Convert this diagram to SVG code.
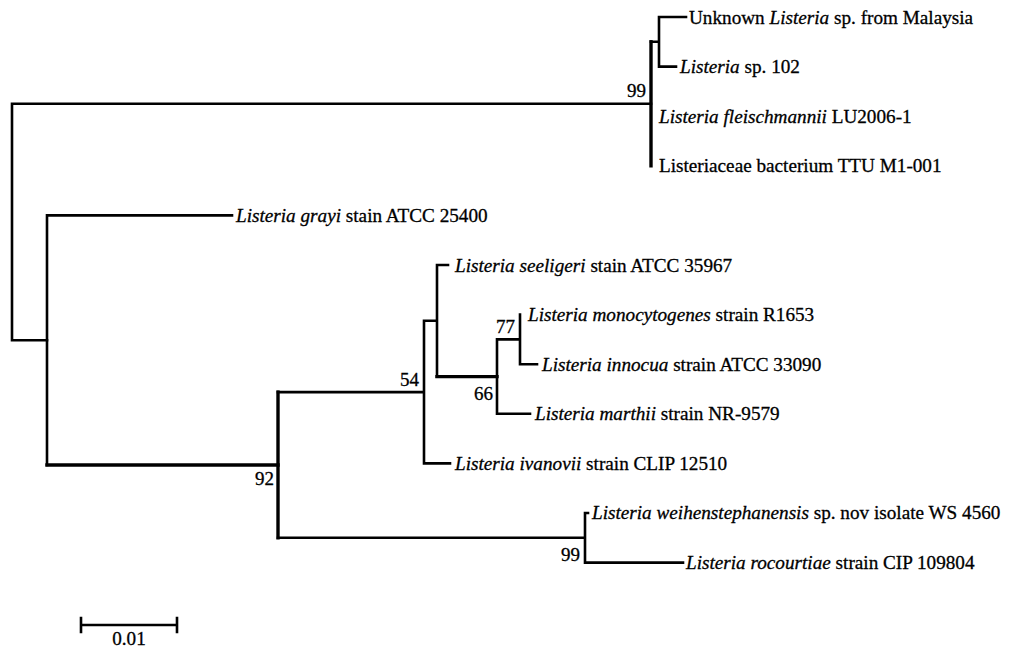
<svg xmlns="http://www.w3.org/2000/svg" width="1010" height="647" viewBox="0 0 1010 647">
<style>
.br{fill:none;stroke:#000;stroke-width:2.6;stroke-linecap:square;stroke-linejoin:miter}
.thk{stroke-width:3.4}
text{font-family:"Liberation Serif","Times New Roman",serif;font-size:19.2px;fill:#000;stroke:#000;stroke-width:0.3}
.bs{font-size:19px;text-anchor:end}
.i{font-style:italic}
</style>
<rect width="1010" height="647" fill="#fff"/>
<g id="connectors">
<path class="br" d="M651,103.8 H12 V340.2 H47"/>
<path class="br thk" d="M651,41.8 V165.8"/>
<path class="br" d="M651,41.8 H659 M659,17 V66.6 M659,17 H686 M659,66.6 H676"/>
<path class="br" d="M47,215.4 V464.95 M47,215.4 H232"/>
<path class="br thk" d="M47,464.95 H278"/>
<path class="br thk" d="M278,392.1 V537.8"/>
<path class="br" d="M278,392.1 H424 M424,320.8 V463.4 M424,463.4 H450 M424,320.8 H437 M437,265 V376.6 M437,265 H448"/>
<path class="br thk" d="M437,376.6 H497"/>
<path class="br" d="M497,339.4 V413.8 M497,413.8 H530 M497,339.4 H520 M520,314.6 V364.2 M520,364.2 H537"/>
<path class="br" d="M278,537.8 H585 M585,513 V562.6 M585,513 H588 M585,562.6 H683"/>
<path class="br" d="M81,625 H177 M81,618 V632 M177,618 V632"/>
</g>
<g id="leaf-unknown"><text x="689" y="23.5">Unknown <tspan class="i">Listeria</tspan> sp. from Malaysia</text></g>
<g id="leaf-sp102"><text x="680" y="73"><tspan class="i">Listeria</tspan> sp. 102</text></g>
<g id="leaf-fleischmannii"><text x="659" y="122.5"><tspan class="i">Listeria fleischmannii</tspan> LU2006-1</text></g>
<g id="leaf-ttu"><text x="659" y="172">Listeriaceae bacterium TTU M1-001</text></g>
<g id="leaf-grayi"><text x="236" y="221.5"><tspan class="i">Listeria grayi</tspan> stain ATCC 25400</text></g>
<g id="leaf-seeligeri"><text x="455" y="271.5"><tspan class="i">Listeria seeligeri</tspan> stain ATCC 35967</text></g>
<g id="leaf-monocytogenes"><text x="528" y="321"><tspan class="i">Listeria monocytogenes</tspan> strain R1653</text></g>
<g id="leaf-innocua"><text x="542" y="370.5"><tspan class="i">Listeria innocua</tspan> strain ATCC 33090</text></g>
<g id="leaf-marthii"><text x="535" y="420"><tspan class="i">Listeria marthii</tspan> strain NR-9579</text></g>
<g id="leaf-ivanovii"><text x="455" y="469.5"><tspan class="i">Listeria ivanovii</tspan> strain CLIP 12510</text></g>
<g id="leaf-weihenstephanensis"><text x="592" y="519"><tspan class="i">Listeria weihenstephanensis</tspan> sp. nov isolate WS 4560</text></g>
<g id="leaf-rocourtiae"><text x="686" y="569"><tspan class="i">Listeria rocourtiae</tspan> strain CIP 109804</text></g>
<g id="bootstrap">
<text class="bs" x="646" y="97">99</text>
<text class="bs" x="419" y="386">54</text>
<text class="bs" x="515" y="333">77</text>
<text class="bs" x="493" y="400">66</text>
<text class="bs" x="274" y="485">92</text>
<text class="bs" x="580" y="561">99</text>
</g>
<g id="scale"><text x="129" y="645" text-anchor="middle">0.01</text></g>
</svg>
